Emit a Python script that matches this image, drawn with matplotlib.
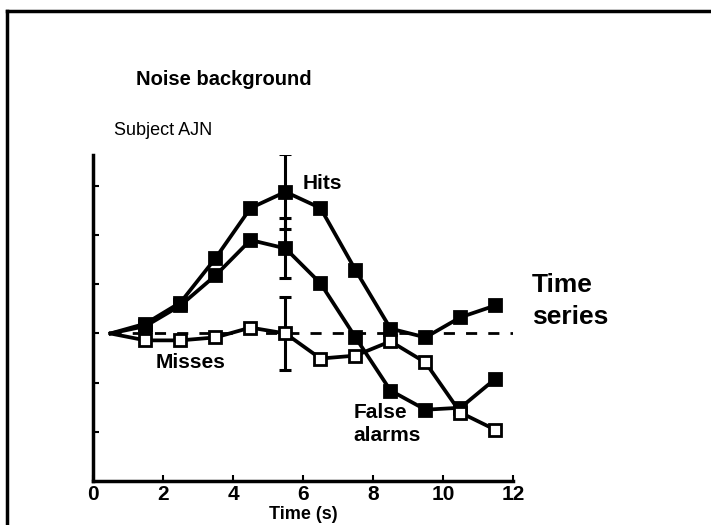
import numpy as np
import matplotlib
matplotlib.use("Agg")
import matplotlib.pyplot as plt

plt.rcParams['font.family'] = ['Liberation Sans', 'DejaVu Sans']

# time of each bin (s); first point is the common start, no marker
t = [0.5, 1.5, 2.5, 3.5, 4.5, 5.5, 6.5, 7.5, 8.5, 9.5, 10.5, 11.5]
hits = [0.0, 0.2, 0.63, 1.53, 2.55, 2.88, 2.55, 1.29, 0.1, -0.08, 0.33, 0.57]
false_alarms = [0.0, 0.15, 0.57, 1.18, 1.9, 1.73, 1.02, -0.08, -1.16, -1.55, -1.51, -0.92]
misses = [0.0, -0.14, -0.14, -0.08, 0.12, 0.0, -0.51, -0.45, -0.16, -0.59, -1.61, -1.96]

# error bars at t = 5.5
err_t = 5.5
hits_err = 0.76
fa_err = 0.61
misses_err = 0.74

xticks = [0, 2, 4, 6, 8, 10, 12]
yticks = [-2, -1, 0, 1, 2, 3]

fig = plt.figure(figsize=(7.11, 5.25), dpi=100)
ax = fig.add_axes([0.1308, 0.0838, 0.5907, 0.621])

ax.plot([0.5, 12], [0, 0], color='black', lw=2, dashes=(4, 4), zorder=1)

for ys, face in [(hits, 'black'), (false_alarms, 'black'), (misses, 'white')]:
    ax.plot(t, ys, color='black', lw=2.7, zorder=2)
    ax.plot(t[1:], ys[1:], 's', ms=9, mfc=face, mec='black', mew=2, lw=0, zorder=3)

i = t.index(err_t)
for ys, e in [(hits, hits_err), (false_alarms, fa_err), (misses, misses_err)]:
    ax.errorbar([err_t], [ys[i]], yerr=[e], fmt='none', ecolor='black',
                elinewidth=2.2, capsize=4.5, capthick=2.2, zorder=2)

ax.set_xlim(0, 12)
ax.set_ylim(-3, 3.63)
ax.set_xticks(xticks)
ax.set_xticklabels([str(v) for v in xticks], fontsize=15, fontweight='bold')
ax.set_yticks(yticks)
ax.set_yticklabels([])
ax.tick_params(direction='in', length=4, width=1.5, pad=3)
for s in ['top', 'right']:
    ax.spines[s].set_visible(False)
for s in ['left', 'bottom']:
    ax.spines[s].set_linewidth(2.5)
ax.set_xlabel('Time (s)', fontsize=13, fontweight='bold', labelpad=1)

fig.text(0.315, 0.848, 'Noise background', fontsize=14.5, fontweight='bold',
         ha='center', va='center')
fig.text(0.229, 0.752, 'Subject AJN', fontsize=13, ha='center', va='center')
ax.text(6.0, 3.05, 'Hits', fontsize=15, fontweight='bold', va='center')
ax.text(1.8, -0.6, 'Misses', fontsize=15, fontweight='bold', va='center')
ax.text(7.45, -1.6, 'False', fontsize=15, fontweight='bold', va='center')
ax.text(7.45, -2.08, 'alarms', fontsize=15, fontweight='bold', va='center')
fig.text(0.748, 0.457, 'Time', fontsize=19, fontweight='bold', va='center')
fig.text(0.748, 0.396, 'series', fontsize=19, fontweight='bold', va='center')

# frame lines at top and left of the panel
fig.add_artist(plt.Line2D([0.0098, 1.0], [0.979, 0.979], color='black', lw=2.5))
fig.add_artist(plt.Line2D([0.0098, 0.0098], [0.0, 0.979], color='black', lw=2.5))

plt.savefig('out.png', dpi=100)
